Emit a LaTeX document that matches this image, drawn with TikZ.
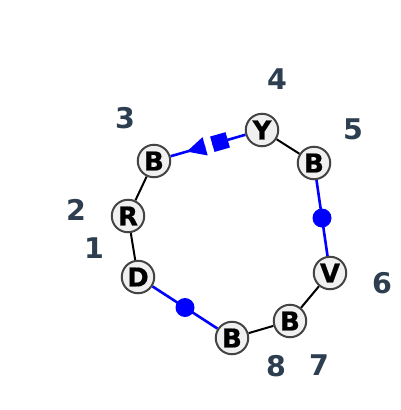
\documentclass[tikz,border=0pt]{standalone}
\usepackage{fontspec}
\setmainfont{DejaVu Sans}
\newfontfamily\vtxfont{DejaVu Sans}[UprightFont={* Bold}, FakeBold=0.6]
\usetikzlibrary{backgrounds}
\definecolor{nodefill}{HTML}{F0F0F0}
\definecolor{nodeline}{HTML}{444444}
\definecolor{labelcol}{HTML}{2C3E50}
\definecolor{edgeblue}{RGB}{0,0,255}
\tikzset{
  vtx/.style={circle, draw=nodeline, line width=2pt, fill=nodefill, minimum size=32.5pt, inner sep=0pt,
    font=\vtxfont\fontsize{26}{26}\selectfont},
  numlab/.style={text=labelcol, inner sep=0pt, font=\fontsize{28.5}{28.5}\selectfont\bfseries},
  blackedge/.style={draw=black, line width=2pt},
  blueedge/.style={draw=edgeblue, line width=2.6pt},
  bluedot/.style={circle, fill=edgeblue, minimum size=19pt, inner sep=0pt},
}
\begin{document}
\begin{tikzpicture}[x=1pt, y=-1pt]
\useasboundingbox (0,0) rectangle (400,410);
\node[vtx] (d) at (138,277) {D};
\node[vtx] (r) at (128,216) {R};
\node[vtx] (b3) at (154,161) {B};
\node[vtx] (y) at (262,130) {Y};
\node[vtx] (b5) at (314,163) {B};
\node[vtx] (v) at (330,273) {V};
\node[vtx] (b7) at (290,321) {B};
\node[vtx] (b8) at (232,338) {B};
\node[numlab] (l1) at (94,248) {1};
\node[numlab] (l2) at (76,210) {2};
\node[numlab] (l3) at (125,118) {3};
\node[numlab] (l4) at (277,79) {4};
\node[numlab] (l5) at (353,129) {5};
\node[numlab] (l6) at (382,283) {6};
\node[numlab] (l7) at (319,365) {7};
\node[numlab] (l8) at (276,366) {8};
\begin{pgfonlayer}{background}
\draw[blackedge] (d) -- (r);
\draw[blackedge] (r) -- (b3);
\draw[blackedge] (y) -- (b5);
\draw[blackedge] (v) -- (b7);
\draw[blackedge] (b7) -- (b8);
\draw[blueedge] (b5) -- (v) node[midway, bluedot] (dot1) {};
\draw[blueedge] (b8) -- (d) node[midway, bluedot] (dot2) {};
\begin{scope}[shift={(208,145.5)}, rotate=16]
  \coordinate (tb) at (-3,0);
  \coordinate (sq) at (4.5,0);
  \fill[edgeblue] (-22,0) -- (-3,-9.5) -- (-3,9.5) -- cycle;
  \fill[edgeblue] (4.5,-8) -- (20.5,-8) -- (20.5,8) -- (4.5,8) -- cycle;
\end{scope}
\draw[blueedge] (b3) -- (tb);
\draw[blueedge] (sq) -- (y);
\end{pgfonlayer}
\end{tikzpicture}
\end{document}
